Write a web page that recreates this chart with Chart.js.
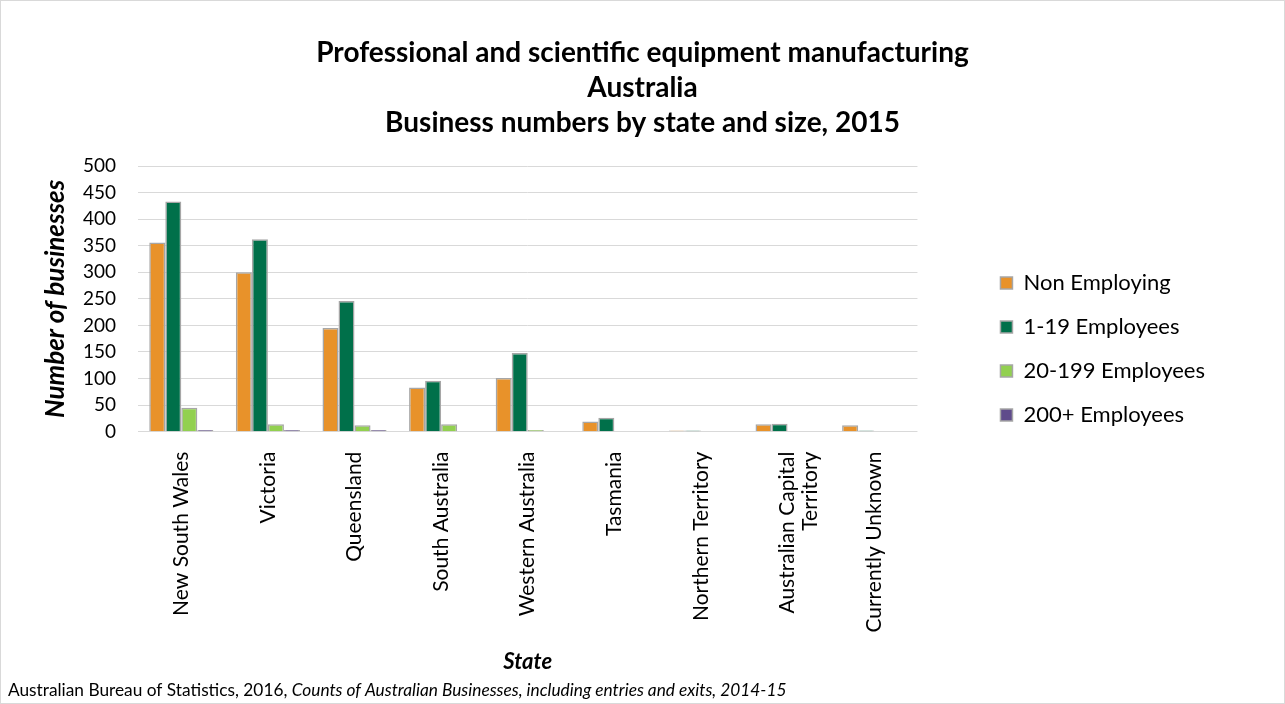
<!DOCTYPE html>
<html>
<head>
<meta charset="utf-8">
<script src="https://cdn.jsdelivr.net/npm/chart.js@4/dist/chart.umd.min.js"></script>
<style>
  html, body { margin: 0; padding: 0; background: #fff; }
  .chart-box {
    position: relative;
    width: 1285px;
    height: 704px;
    box-sizing: border-box;
    border: 1px solid #d9d9d9;
  }
</style>
</head>
<body>
<div class="chart-box">
  <canvas id="stateChart"></canvas>
</div>
<script>
/* ---------------------------------- Data ---------------------------------- */
const states = [
  "New South Wales",
  "Victoria",
  "Queensland",
  "South Australia",
  "Western Australia",
  "Tasmania",
  "Northern Territory",
  ["Australian Capital", "Territory"],
  "Currently Unknown",
];

const nonEmploying = [356, 300, 195, 83, 101, 19, 2, 14, 12];
const emp1to19 = [433, 362, 246, 96, 148, 26, 2, 15, 2];
const emp20to199 = [45, 14, 12, 14, 3, 0, 0, 0, 0];
const emp200plus = [3, 3, 3, 0, 0, 0, 0, 0, 0];

const seriesNames = [
  "Non Employing",
  "1-19 Employees",
  "20-199 Employees",
  "200+ Employees",
];

const titleLines = [
  "Professional and scientific equipment manufacturing",
  "Australia",
  "Business numbers by state and size, 2015",
];

const sourcePlain = "Australian Bureau of Statistics, 2016, ";
const sourceItalic = "Counts of Australian Businesses, including entries and exits, 2014-15";

/* ---------------------------------- Style --------------------------------- */
const FONT = "Lato, 'Open Sans', sans-serif";
const colors = ["#E8922A", "#00704A", "#92D050", "#5F4B8B"];

Chart.defaults.font.family = FONT;
Chart.defaults.color = "#000";

// source line under the chart, plain then italic
const sourceNote = {
  id: "sourceNote",
  afterDraw(chart) {
    const ctx = chart.ctx;
    ctx.save();
    ctx.fillStyle = "#000";
    ctx.textBaseline = "middle";
    ctx.font = `17.3px ${FONT}`;
    let x = 7;
    ctx.fillText(sourcePlain, x, 689);
    x += ctx.measureText(sourcePlain).width;
    ctx.font = `italic 17.3px ${FONT}`;
    ctx.fillText(sourceItalic, x, 689);
    ctx.restore();
  },
};

// title centred on the whole canvas, not just inside the padding
const centerTitle = {
  id: "centerTitle",
  afterLayout(chart) {
    const block = chart.titleBlock;
    if (!block) return;
    block.left = 0;
    block.right = chart.width;
    block.width = chart.width;
  },
};

const seriesData = [nonEmploying, emp1to19, emp20to199, emp200plus];

const ctx = document.getElementById("stateChart").getContext("2d");
new Chart(ctx, {
  type: "bar",
  data: {
    labels: states,
    datasets: seriesData.map((values, i) => ({
      label: seriesNames[i],
      data: values,
      backgroundColor: colors[i],
      borderColor: "#a6a6a6",
      borderWidth: 1.5,
      barPercentage: 1,
      categoryPercentage: 0.74,
    })),
  },
  options: {
    responsive: true,
    maintainAspectRatio: false,
    animation: false,
    layout: {
      padding: { top: 20, right: 69, bottom: 26, left: 24 },
    },
    plugins: {
      title: {
        display: true,
        text: titleLines,
        font: { size: 28, weight: "bold", lineHeight: 1.25 },
        padding: { top: 14, bottom: 26 },
        color: "#000",
      },
      legend: {
        position: "right",
        align: "center",
        maxWidth: 400,
        labels: {
          boxWidth: 12,
          boxHeight: 12,
          font: { size: 22 },
          padding: 22,
          color: "#000",
        },
      },
      tooltip: { enabled: false },
    },
    scales: {
      x: {
        grid: { display: false },
        border: { display: false },
        ticks: {
          minRotation: 90,
          maxRotation: 90,
          autoSkip: false,
          font: { size: 21, lineHeight: 1.1 },
          padding: 12,
        },
        title: {
          display: true,
          text: "State",
          font: { size: 22, weight: "bold", style: "italic" },
          padding: { top: 4, bottom: 2 },
        },
      },
      y: {
        min: 0,
        max: 500,
        ticks: {
          stepSize: 50,
          font: { size: 19 },
          padding: 22,
        },
        grid: { color: "#d9d9d9", drawTicks: false },
        border: { display: false },
        title: {
          display: true,
          text: "Number of businesses",
          font: { size: 26, weight: "bold", style: "italic" },
          padding: { top: 15, bottom: 0 },
        },
        afterFit(scale) {
          scale.width = 113;
        },
      },
      spacer: {
        type: "linear",
        position: "right",
        display: true,
        grid: { display: false },
        ticks: { display: false },
        border: { display: false },
        afterFit(scale) {
          scale.width = 61;
        },
      },
    },
  },
  plugins: [sourceNote, centerTitle],
});
</script>
</body>
</html>
